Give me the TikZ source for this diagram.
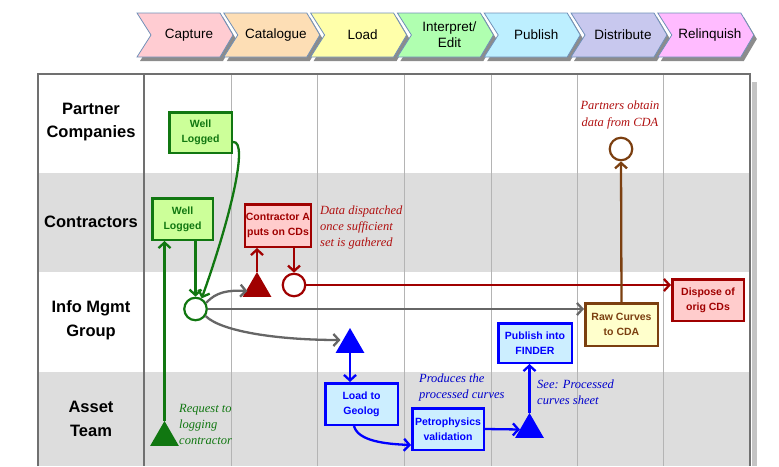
\documentclass[tikz,border=0pt]{standalone}
\usepackage{fontspec}
\setmainfont{Liberation Sans}
\newfontfamily\lblserif{Liberation Serif}
\usetikzlibrary{arrows.meta,shapes.geometric}
\definecolor{bandgray}{HTML}{DDDDDD}
\definecolor{frameline}{HTML}{707070}
\definecolor{colline}{HTML}{B4B4B4}
\definecolor{fshadow}{HTML}{C4C4C4}
\definecolor{chevborder}{HTML}{7090B8}
\definecolor{chevshadow}{HTML}{8C8C8C}
\definecolor{capcol}{HTML}{FFCCD2}
\definecolor{catcol}{HTML}{FDDEB5}
\definecolor{loadcol}{HTML}{FFFFAA}
\definecolor{intcol}{HTML}{B0FFB0}
\definecolor{pubcol}{HTML}{BDEFFF}
\definecolor{distcol}{HTML}{C8C8EE}
\definecolor{relcol}{HTML}{FFBBFF}
\definecolor{dgreen}{HTML}{117711}
\definecolor{lgreen}{HTML}{CCFF99}
\definecolor{dred}{HTML}{A00000}
\definecolor{lred}{HTML}{FFCCCC}
\definecolor{brown}{HTML}{7B3F10}
\definecolor{lyellow}{HTML}{FFFFCC}
\definecolor{dblue}{HTML}{0000FF}
\definecolor{lblue}{HTML}{CCEEFF}
\definecolor{conngray}{HTML}{666666}
\definecolor{itred}{HTML}{B01010}
\definecolor{itblue}{HTML}{0000CC}
\newcommand\mychevron[4]{%
  \pgfmathsetmacro\chs{137+86.8*#1}%
  \fill[chevshadow] (\chs+3,17) -- ++(83,0) -- ++(13,22) -- ++(-13,22) -- ++(-83,0) -- ++(14,-22) -- cycle;
  \filldraw[fill=#2, chevline] (\chs,13) -- ++(83,0) -- ++(13,22) -- ++(-13,22) -- ++(-83,0) -- ++(14,-22) -- cycle;
  \node[chevtext] (#3) at (\chs+52,35) {#4};
}
\begin{document}
\begin{tikzpicture}[x=1pt,y=-1pt,
  chevline/.style={draw=chevborder,line width=0.8pt},
  chevtext/.style={font=\fontsize{13.5}{16}\selectfont, align=center, inner sep=0pt},
  lanelabel/.style={font=\fontsize{16.5}{23.5}\selectfont\bfseries, align=center, inner sep=0pt},
  boxbase/.style={rectangle, line width=2.5pt, align=center, inner sep=1pt,
     font=\fontsize{10.5}{15}\selectfont\bfseries},
  gbox/.style={boxbase, draw=dgreen, fill=lgreen, text=dgreen},
  rbox/.style={boxbase, draw=dred, fill=lred, text=dred},
  ybox/.style={boxbase, draw=brown, fill=lyellow, text=brown},
  bbox/.style={boxbase, draw=dblue, fill=lblue, text=dblue},
  circ/.style={circle, line width=2.2pt, fill=white, minimum size=22.5pt, inner sep=0pt},
  tri/.style={regular polygon, regular polygon sides=3, minimum size=33pt, inner sep=0pt, outer sep=0pt},
  conn/.style={line width=2.3pt, -{Straight Barb[length=5.5pt,width=12pt]}},
  note/.style={font=\lblserif\itshape\fontsize{12.5}{16}\selectfont, inner sep=0pt}
]
\useasboundingbox (0,0) rectangle (779,466);
% lane bands
\fill[bandgray] (39,173) rectangle (750,272);
\fill[bandgray] (39,372) rectangle (750,466);
% frame shadow
\fill[fshadow] (752,82) rectangle (757,466);
% column lines
\foreach \x in {231,317,404,491,577,663} \draw[colline, line width=0.9pt] (\x,75) -- (\x,466);
\draw[frameline, line width=1.6pt] (144,75) -- (144,466);
\draw[frameline, line width=2.2pt] (38,466) -- (38,74) -- (750,74) -- (750,466);

% chevrons
\mychevron{0}{capcol}{c0}{Capture}
\mychevron{1}{catcol}{c1}{Catalogue}
\mychevron{2}{loadcol}{c2}{Load}
\mychevron{3}{intcol}{c3}{Interpret/\\Edit}
\mychevron{4}{pubcol}{c4}{Publish}
\mychevron{5}{distcol}{c5}{Distribute}
\mychevron{6}{relcol}{c6}{Relinquish}

% lane labels
\node[lanelabel] (l1) at (91,122) {Partner\\Companies};
\node[lanelabel] (l2) at (91,222) {Contractors};
\node[lanelabel] (l3) at (91,320) {Info Mgmt\\Group};
\node[lanelabel] (l4) at (91,419) {Asset\\Team};

% boxes
\node[gbox, minimum width=62.5pt, minimum height=40.5pt] (wl1) at (200.5,132.5) {Well\\Logged};
\node[gbox, minimum width=60.5pt, minimum height=41.5pt] (wl2) at (182.5,219) {Well\\Logged};
\node[rbox, minimum width=65.5pt, minimum height=42.5pt] (ca) at (278,225.5) {Contractor A\\puts on CDs};
\node[rbox, minimum width=71.5pt, minimum height=41.5pt] (disp) at (708,300) {Dispose of\\orig CDs};
\node[ybox, minimum width=72.5pt, minimum height=42.5pt] (raw) at (621.5,324.5) {Raw Curves\\to CDA};
\node[bbox, minimum width=72.5pt, minimum height=41.5pt] (load) at (361.5,404) {Load to\\Geolog};
\node[bbox, minimum width=71.5pt, minimum height=41.5pt] (petro) at (448,429) {Petrophysics\\validation};
\node[bbox, minimum width=73.5pt, minimum height=39.5pt] (pub) at (535,343) {Publish into\\FINDER};

% circles
\node[circ, draw=dgreen] (gc) at (195.5,309) {};
\node[circ, draw=dred] (rc) at (294,285) {};
\node[circ, draw=brown] (bc) at (621,149) {};

% triangles
\node[tri, fill=dgreen] (gt) at (164.5,437.5) {};
\node[tri, fill=dred] (rt) at (257,288.5) {};
\node[tri, fill=dblue] (bt1) at (350,344.5) {};
\node[tri, fill=dblue] (bt2) at (529.5,429.5) {};

% green connectors
\draw[conn, dgreen] (gt.north) -- (gt.north |- wl2.south);
\draw[conn, dgreen] (gc.north |- wl2.south) -- (gc.north);
\draw[conn, dgreen] (wl1.east |- 0,142) .. controls (250,140) and (228,225) .. (gc.60);

% red connectors
\draw[conn, dred] (rt.north) -- (rt.north |- ca.south);
\draw[conn, dred] (rc.north |- ca.south) -- (rc.north);
\draw[conn, dred] (rc.east) -- (rc.east -| disp.west);

% gray connectors
\draw[conn, conngray] (gc.30) .. controls (216,292) and (228,290) .. (rt.west |- 0,291);
\draw[conn, conngray] (gc.east) -- (gc.east -| raw.west);
\draw[conn, conngray] (gc.-35) .. controls (222,332) and (280,340) .. (bt1.west |- 0,340);

% brown
\draw[conn, brown] (raw.north) -- (bc.south);

% blue
\draw[conn, dblue] (bt1.south) -- (bt1.south |- load.north);
\draw[conn, dblue] (load.south -| 354,0) .. controls (358,441) and (385,444) .. (petro.west |- 0,445);
\draw[conn, dblue] (petro.east) -- (bt2.west);
\draw[conn, dblue] (bt2.north) -- (bt2.north |- pub.south);

% notes
\node[note, text=itred, align=left, anchor=west] (n1) at (320,227) {Data dispatched\\once sufficient\\set is gathered};
\node[note, text=itred, align=center, font=\lblserif\itshape\fontsize{12.5}{17}\selectfont] (n2) at (620,114.5) {Partners obtain\\data from CDA};
\node[note, text=dgreen, align=left, anchor=west] (n3) at (179,424) {Request to\\logging\\contractor};
\node[note, text=itblue, align=left, anchor=west] (n4) at (419,387) {Produces the\\processed curves};
\node[note, text=itblue, align=left, anchor=west] (n5) at (537,392.5) {See: Processed\\curves sheet};
\end{tikzpicture}
\end{document}
